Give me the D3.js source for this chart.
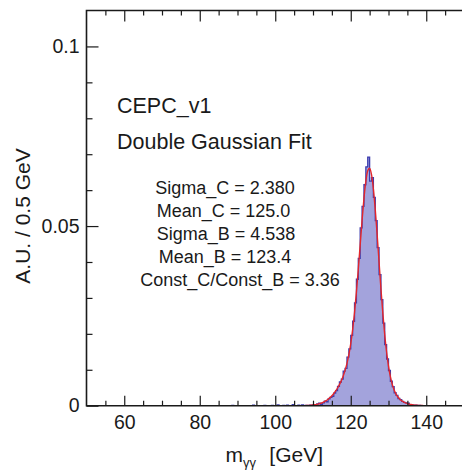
<!DOCTYPE html>
<html>
<head>
<meta charset="utf-8">
<script src="https://cdn.jsdelivr.net/npm/d3@7"></script>
<style>
  html, body { margin: 0; padding: 0; background: #fff; }
  svg { display: block; }
  text { font-family: "Liberation Sans", Arial, sans-serif; fill: #1a1a1a; }
</style>
</head>
<body>
<svg id="chart" width="462" height="470"></svg>
<script>
// ---------------- data ----------------
const binWidth = 0.5;          // GeV
const binLowEdges = d3.range(86, 142, 0.5);
const binValues = [
  0, 0, 0, 0, 0, 0.0001, 0, 0, 0, 0,            // 86.0 - 90.5
  0, 0, 0, 0, 0, 0, 0.00015, 0, 0, 0,           // 91.0 - 95.5
  0, 0, 0.0001, 0, 0, 0, 0.0001, 0, 0, 0.0002,  // 96.0 - 100.5
  0, 0, 0.0001, 0, 0.00015, 0,                  // 101.0 - 103.5
  0, 0.0003, 0, 0, 0.00015, 0, 0.0002, 0, 0.0001, 0,          // 104.0 - 108.5
  0.00015, 0.0001, 0.0003, 0.0002, 0.0005, 0.0007, 0.0004, 0.0008, 0.0013, 0.0011, // 109.0 - 113.5
  0.0019, 0.0023, 0.0026, 0.0035, 0.0042, 0.0054, 0.0066, 0.0074, 0.0096, 0.0104,   // 114.0 - 118.5
  0.0135, 0.0158, 0.0196, 0.0235, 0.0286, 0.0352, 0.0410, 0.0495, 0.0555, 0.0615,   // 119.0 - 123.5
  0.0665, 0.0692, 0.0625, 0.0635, 0.0580, 0.0515, 0.0440, 0.0365, 0.0295, 0.0230,   // 124.0 - 128.5
  0.0170, 0.0130, 0.0098, 0.0068, 0.0053, 0.0036, 0.0029, 0.0020, 0.0017, 0.0012,   // 129.0 - 133.5
  0.0009, 0.0008, 0.0007, 0.0003, 0.00025, 0.0001, 0.00015, 0.00005, 0.00005, 0,    // 134.0 - 138.5
  0, 0, 0, 0, 0, 0                                                                   // 139.0 - 141.5
];

// double Gaussian fit curve, read at 0.5 GeV steps
const fitX = d3.range(108, 140.5, 0.5);
const fitY = [
  0.0000486, 0.000068, 0.0001, 0.00014, 0.000196, 0.00027, 0.000368, 0.00049, 0.000655, 0.00086,
  0.00111, 0.00142, 0.0018, 0.00225, 0.00278, 0.0034, 0.00411, 0.00493, 0.00587, 0.00696,
  0.00826, 0.00982, 0.01176, 0.0142, 0.01729, 0.02117, 0.02594, 0.0316, 0.03799, 0.0448,
  0.0516, 0.0577, 0.0625, 0.0654, 0.0661, 0.0643, 0.0603, 0.0545, 0.0475, 0.0400,
  0.0325, 0.0257, 0.01976, 0.01487, 0.01102, 0.0081, 0.00593, 0.00437, 0.00324, 0.00242,
  0.00182, 0.00138, 0.00104, 0.00079, 0.000593, 0.00044, 0.000326, 0.00024, 0.000172, 0.00012,
  0.000087, 0.00006, 0.00004, 0.00003, 0.00002
];

const xMajorTicks = [60, 80, 100, 120, 140];
const xMinorTicks = [55, 65, 70, 75, 85, 90, 95, 105, 110, 115, 125, 130, 135, 145];
const yMajorTicks = [0, 0.05, 0.1];
const yTickLabels = ["0", "0.05", "0.1"];
const yMinorTicks = [0.01, 0.02, 0.03, 0.04, 0.06, 0.07, 0.08, 0.09];

const titleLines = ["CEPC_v1", "Double Gaussian Fit"];
const paramLines = ["Sigma_C = 2.380", "Mean_C = 125.0", "Sigma_B = 4.538", "Mean_B = 123.4", "Const_C/Const_B = 3.36"];
const yLabel = "A.U. / 0.5 GeV";

// ---------------- layout ----------------
const pL = 86.5, pR = 464, pT = 10.5, pB = 405.7;
const svg = d3.select("#chart");

const x = d3.scaleLinear().domain([50, 150]).range([pL, pR]);
const y = d3.scaleLinear().domain([0, 0.11]).range([pB, pT]);

svg.append("defs").append("clipPath").attr("id", "clip")
  .append("rect").attr("x", pL).attr("y", pT).attr("width", pR - pL).attr("height", pB - pT);

const plot = svg.append("g").attr("clip-path", "url(#clip)");

// histogram as step path
const bins = binLowEdges.map((e, i) => ({ x0: e, x1: e + binWidth, v: binValues[i] }));
const stepPts = [];
bins.forEach(b => { stepPts.push([b.x0, b.v]); stepPts.push([b.x1, b.v]); });
const areaGen = d3.area().x(d => x(d[0])).y0(y(0)).y1(d => y(d[1]));
const lineGen = d3.line().x(d => x(d[0])).y(d => y(d[1]));

plot.append("path").attr("d", areaGen(stepPts))
  .attr("fill", "#a3a3dc").attr("stroke", "none");
plot.append("path").attr("d", lineGen(stepPts))
  .attr("fill", "none").attr("stroke", "#3c3cae").attr("stroke-width", 1.3);

// fit curve
const fitPts = fitX.map((v, i) => [v, fitY[i]]);
plot.append("path").attr("d", d3.line().x(d => x(d[0])).y(d => y(d[1])).curve(d3.curveMonotoneX)(fitPts))
  .attr("fill", "none").attr("stroke", "#e3262b").attr("stroke-width", 1.4);

// ---------------- axes ----------------
const axisColor = "#1a1a1a";
const fontFam = '"Liberation Sans", Arial, sans-serif';
function styleAxis(g) {
  g.select(".domain").remove();
  g.selectAll(".tick line").attr("stroke", axisColor).attr("stroke-width", 1.2);
}

// bottom
svg.append("g").attr("transform", `translate(0,${pB})`)
  .call(d3.axisBottom(x).tickValues(xMajorTicks).tickSize(-10).tickPadding(9.8).tickFormat(d3.format("d")))
  .call(styleAxis)
  .call(g => g.selectAll("text").attr("font-size", 19.5).attr("fill", axisColor).attr("font-family", fontFam));
svg.append("g").attr("transform", `translate(0,${pB})`)
  .call(d3.axisBottom(x).tickValues(xMinorTicks).tickSize(-5).tickFormat(""))
  .call(styleAxis);
// top
svg.append("g").attr("transform", `translate(0,${pT})`)
  .call(d3.axisTop(x).tickValues(xMajorTicks).tickSize(-11).tickFormat(""))
  .call(styleAxis);
svg.append("g").attr("transform", `translate(0,${pT})`)
  .call(d3.axisTop(x).tickValues(xMinorTicks).tickSize(-5).tickFormat(""))
  .call(styleAxis);
// left
svg.append("g").attr("transform", `translate(${pL},0)`)
  .call(d3.axisLeft(y).tickValues(yMajorTicks).tickSize(-12).tickPadding(7)
    .tickFormat((d, i) => yTickLabels[i]))
  .call(styleAxis)
  .call(g => g.selectAll("text").attr("font-size", 19.5).attr("fill", axisColor).attr("font-family", fontFam));
svg.append("g").attr("transform", `translate(${pL},0)`)
  .call(d3.axisLeft(y).tickValues(yMinorTicks).tickSize(-6).tickFormat(""))
  .call(styleAxis);

// frame lines (left, top, bottom)
svg.append("path")
  .attr("d", `M${pR},${pT}H${pL}V${pB}H${pR}`)
  .attr("fill", "none").attr("stroke", axisColor).attr("stroke-width", 1.6);

// ---------------- labels ----------------
svg.append("text").attr("transform", "translate(29.5,216) rotate(-90)")
  .attr("text-anchor", "middle").attr("font-size", 21).text(yLabel);

const xl = svg.append("text").attr("x", 225.5).attr("y", 461.7).attr("font-size", 21);
xl.append("tspan").text("m");
xl.append("tspan").attr("font-size", 13).attr("dy", 5).text("γγ");
xl.append("tspan").attr("x", 269.3).attr("dy", -5).text("[GeV]");

svg.selectAll(".title").data(titleLines).enter().append("text")
  .attr("class", "title")
  .attr("x", 117).attr("y", (d, i) => 112.7 + i * 36.6)
  .attr("font-size", 21.5).text(d => d);

const paramCenters = [225, 223.5, 226, 225, 240];
svg.selectAll(".param").data(paramLines).enter().append("text")
  .attr("class", "param")
  .attr("x", (d, i) => paramCenters[i]).attr("y", (d, i) => 194.3 + i * 23)
  .attr("text-anchor", "middle").attr("font-size", 18).text(d => d);
</script>
</body>
</html>
